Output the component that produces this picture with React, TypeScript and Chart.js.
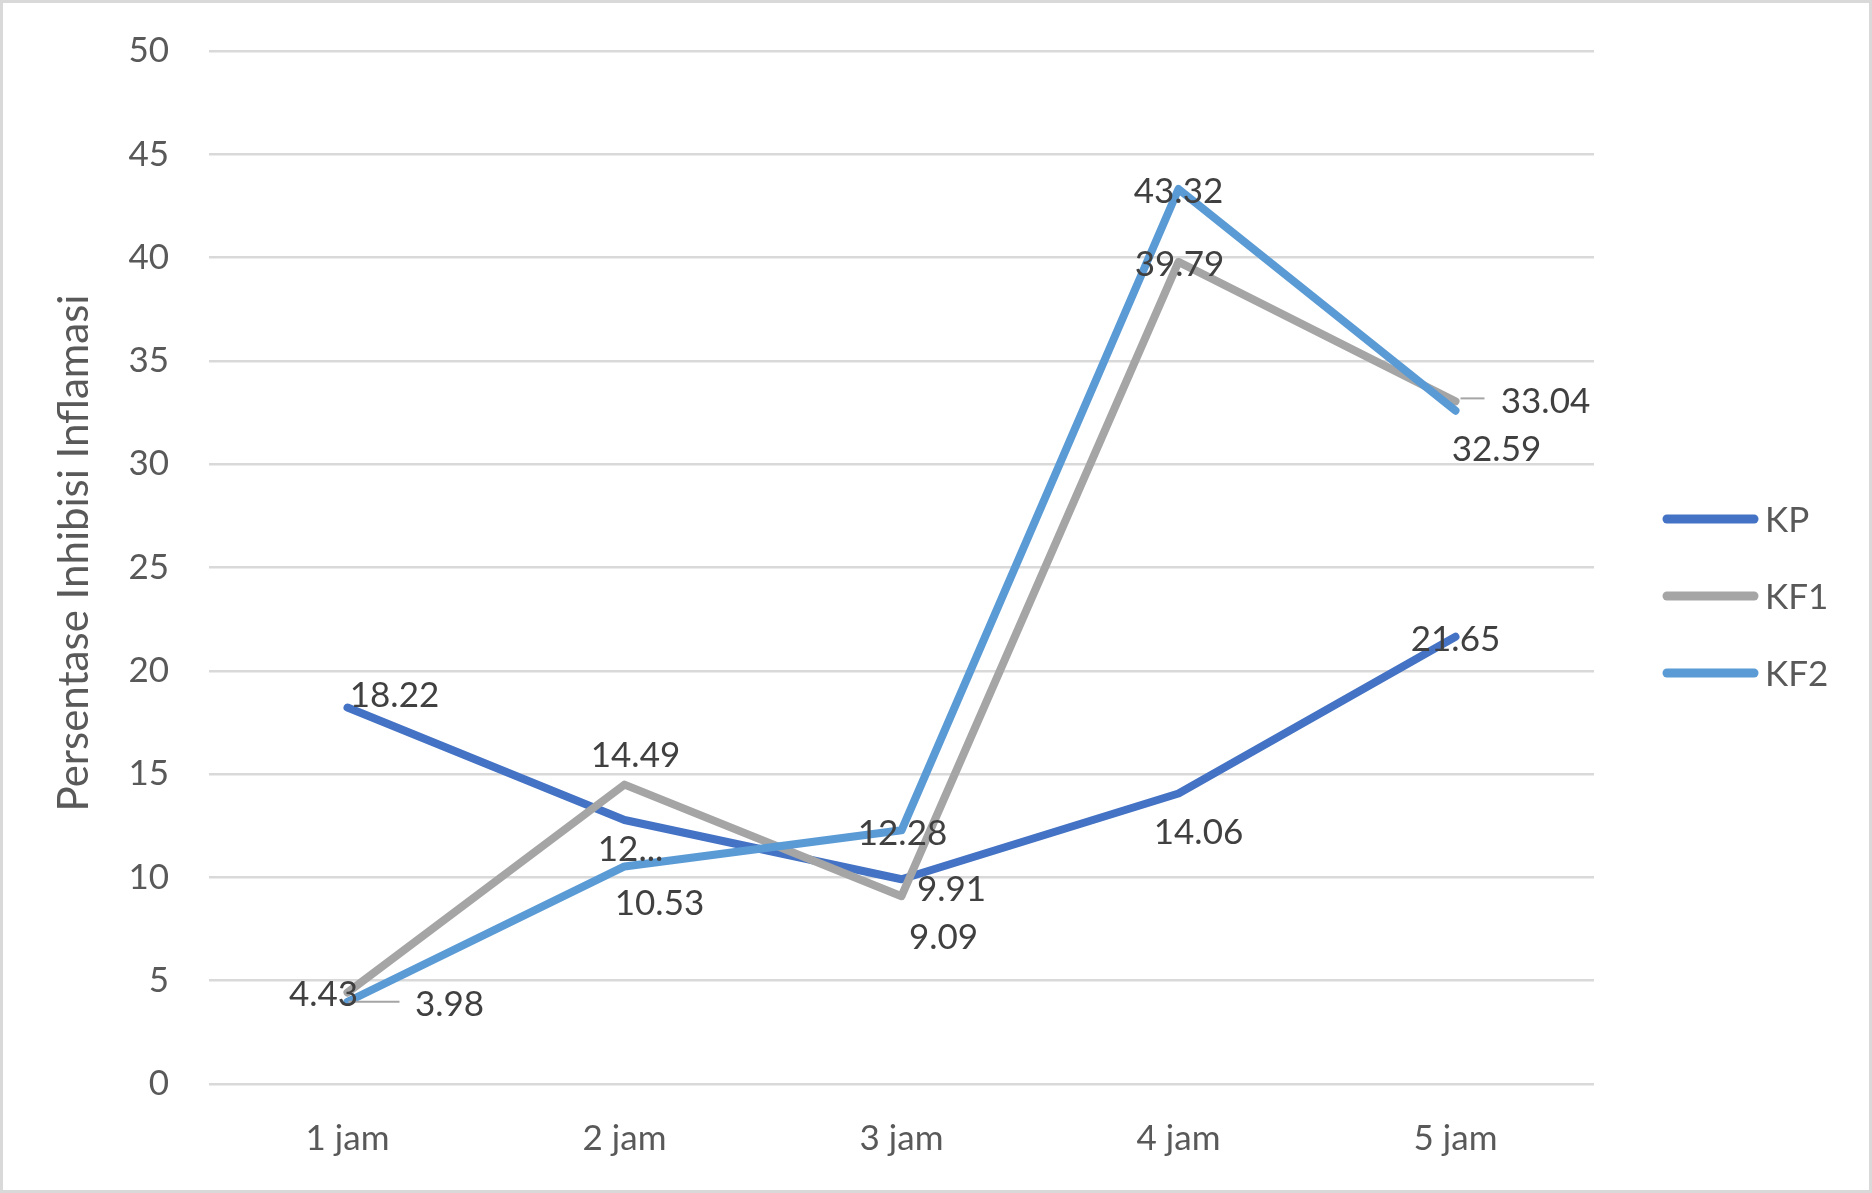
import React, { useEffect, useRef } from "react";
import { Chart, registerables } from "chart.js";

Chart.register(...registerables);

// ---- data ----
const CATEGORIES = ["1 jam", "2 jam", "3 jam", "4 jam", "5 jam"];
const SERIES_NAMES = ["KP", "KF1", "KF2"];
const KP = [18.22, 12.78, 9.91, 14.06, 21.65];
const KF1 = [4.43, 14.49, 9.09, 39.79, 33.04];
const KF2 = [3.98, 10.53, 12.28, 43.32, 32.59];
const Y_MIN = 0;
const Y_MAX = 50;
const Y_STEP = 5;
const Y_TITLE = "Persentase Inhibisi Inflamasi";
// label text overrides (truncated label in the original)
const LABEL_TEXT_OVERRIDES: Record<string, string> = { "0-1": "12..." };

// ---- style / layout ----
const COLORS = ["#4472C4", "#A5A5A5", "#5B9BD5"];
const FONT = "Lato, 'Open Sans', sans-serif";
const FONT_SIZE = 35;
const TITLE_FONT_SIZE = 42;
const TICK_COLOR = "#595959";
const LABEL_COLOR = "#404040";
const GRID_COLOR = "#d9d9d9";

// offset of each data label's centre from its point, px
const LABEL_OFFSETS: number[][][] = [
  [[47, -13], [6, 29], [50, 9], [20, 38], [0, 2]],
  [[-24, 1], [11, -30], [42, 40], [1, 2], [90, -1]],
  [[102, 2], [35, 36], [1, 2], [0, 1], [41, 38]],
];
const LEADERS = [
  { series: 1, index: 4, from: [5, -3], to: [29, -3] },
  { series: 2, index: 0, from: [1, 0], to: [52, 0] },
];

const W = 1872;
const H = 1193;

const framePlugin = {
  id: "frame",
  beforeDraw(chart: any) {
    const ctx = chart.ctx;
    ctx.save();
    ctx.fillStyle = "#ffffff";
    ctx.fillRect(0, 0, chart.width, chart.height);
    ctx.strokeStyle = GRID_COLOR;
    ctx.lineWidth = 3;
    ctx.strokeRect(1.5, 1.5, chart.width - 3, chart.height - 3);
    ctx.restore();
  },
  afterDraw(chart: any) {
    const ctx = chart.ctx;
    ctx.save();
    ctx.translate(74, 553);
    ctx.rotate(-Math.PI / 2);
    ctx.font = `${TITLE_FONT_SIZE}px ${FONT}`;
    ctx.fillStyle = TICK_COLOR;
    ctx.textAlign = "center";
    ctx.textBaseline = "middle";
    ctx.fillText(Y_TITLE, 0, 0);
    ctx.restore();
  },
};

const labelsPlugin = {
  id: "dataLabels",
  afterDatasetsDraw(chart: any) {
    const ctx = chart.ctx;
    ctx.save();
    ctx.strokeStyle = "#A5A5A5";
    ctx.lineWidth = 2;
    for (const l of LEADERS) {
      const el = chart.getDatasetMeta(l.series).data[l.index];
      ctx.beginPath();
      ctx.moveTo(el.x + l.from[0], el.y + l.from[1]);
      ctx.lineTo(el.x + l.to[0], el.y + l.to[1]);
      ctx.stroke();
    }
    ctx.font = `${FONT_SIZE}px ${FONT}`;
    ctx.fillStyle = LABEL_COLOR;
    ctx.textAlign = "center";
    ctx.textBaseline = "alphabetic";
    chart.data.datasets.forEach((ds: any, si: number) => {
      const meta = chart.getDatasetMeta(si);
      meta.data.forEach((el: any, i: number) => {
        const key = `${si}-${i}`;
        const text = LABEL_TEXT_OVERRIDES[key] ?? Number(ds.data[i]).toFixed(2);
        const off = LABEL_OFFSETS[si][i];
        ctx.fillText(text, el.x + off[0], el.y + off[1] + 12.5);
      });
    });
    ctx.restore();
  },
};

const legendPlugin = {
  id: "sideLegend",
  afterDraw(chart: any) {
    const ctx = chart.ctx;
    ctx.save();
    ctx.font = `${FONT_SIZE}px ${FONT}`;
    ctx.textAlign = "left";
    ctx.textBaseline = "alphabetic";
    chart.data.datasets.forEach((ds: any, i: number) => {
      const y = 519 + i * 77;
      ctx.strokeStyle = ds.borderColor;
      ctx.lineWidth = 9;
      ctx.lineCap = "round";
      ctx.beginPath();
      ctx.moveTo(1667, y);
      ctx.lineTo(1754, y);
      ctx.stroke();
      ctx.fillStyle = TICK_COLOR;
      ctx.fillText(ds.label, 1765, y + 12.5);
    });
    ctx.restore();
  },
};

export default function App() {
  const ref = useRef<HTMLCanvasElement | null>(null);
  useEffect(() => {
    document.body.style.margin = "0";
    const series = [KP, KF1, KF2];
    const chart = new Chart(ref.current as HTMLCanvasElement, {
      type: "line",
      data: {
        labels: CATEGORIES,
        datasets: series.map((d, i) => ({
          label: SERIES_NAMES[i],
          data: d,
          borderColor: COLORS[i],
          backgroundColor: COLORS[i],
          borderWidth: 8,
          borderCapStyle: "round",
          borderJoinStyle: "round",
          pointRadius: 0,
          tension: 0,
          order: 3 - i,
        })),
      },
      options: {
        responsive: false,
        animation: false,
        devicePixelRatio: 1,
        layout: { padding: { left: 0, top: 51, right: 278, bottom: 0 } },
        plugins: { legend: { display: false }, tooltip: { enabled: false } },
        scales: {
          x: {
            offset: true,
            grid: { display: false },
            border: { display: false },
            ticks: {
              color: TICK_COLOR,
              font: { family: FONT, size: FONT_SIZE },
              padding: 26,
              maxRotation: 0,
            },
            afterFit(scale: any) {
              scale.height = 109;
              scale.paddingLeft = 0;
              scale.paddingRight = 0;
            },
          },
          y: {
            min: Y_MIN,
            max: Y_MAX,
            grid: { color: GRID_COLOR, lineWidth: 2.5, drawTicks: false },
            border: { display: false },
            ticks: {
              stepSize: Y_STEP,
              color: TICK_COLOR,
              font: { family: FONT, size: FONT_SIZE },
              padding: 40,
            },
            afterFit(scale: any) {
              scale.width = 209;
              scale.paddingTop = 0;
              scale.paddingBottom = 0;
            },
          },
        },
      },
      plugins: [framePlugin, labelsPlugin, legendPlugin],
    } as any);
    return () => chart.destroy();
  }, []);
  return (
    <div style={{ position: "absolute", left: 0, top: 0, width: W, height: H }}>
      <canvas ref={ref} width={W} height={H} style={{ width: W, height: H, display: "block" }} />
    </div>
  );
}
